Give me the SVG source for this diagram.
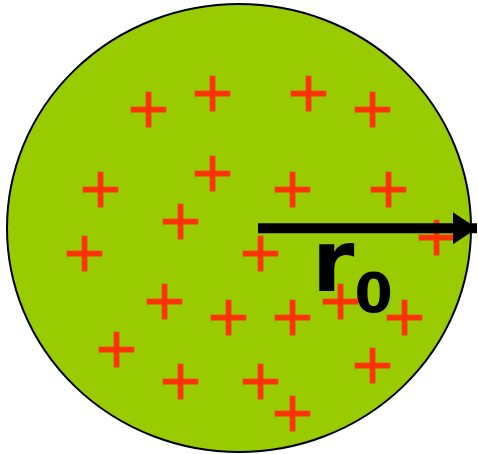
<svg xmlns="http://www.w3.org/2000/svg" width="478" height="454" viewBox="0 0 478 454">
<style>
.p{font-family:"DejaVu Sans",sans-serif;font-size:55px;fill:#FF3300;stroke:#FF3300;stroke-width:1.2;text-anchor:middle;dominant-baseline:central}
.lbl{font-family:"DejaVu Sans",sans-serif;font-weight:bold;fill:#000}
</style>
<defs>
<marker id="ah" markerWidth="24" markerHeight="32" refX="24" refY="16" orient="auto" markerUnits="userSpaceOnUse">
<path d="M0,0 L24,16 L0,32 Z" fill="#000"/>
</marker>
</defs>
<g id="sphere">
<ellipse cx="239" cy="228" rx="232" ry="224" fill="#99CC00" stroke="#000" stroke-width="2"/>
</g>
<g id="charges">
<text class="p" x="148.5" y="107.5">+</text>
<text class="p" x="212.5" y="91.5">+</text>
<text class="p" x="308.5" y="91.5">+</text>
<text class="p" x="372.5" y="107.5">+</text>
<text class="p" x="100.5" y="187.5">+</text>
<text class="p" x="212.5" y="171.5">+</text>
<text class="p" x="292.5" y="187.5">+</text>
<text class="p" x="388.5" y="187.5">+</text>
<text class="p" x="180.5" y="219.5">+</text>
<text class="p" x="84.5" y="251.5">+</text>
<text class="p" x="260.5" y="251.5">+</text>
<text class="p" x="436.5" y="235.5">+</text>
<text class="p" x="164.5" y="299.5">+</text>
<text class="p" x="228.5" y="315.5">+</text>
<text class="p" x="292.5" y="315.5">+</text>
<text class="p" x="340.5" y="299.5">+</text>
<text class="p" x="404.5" y="315.5">+</text>
<text class="p" x="116.5" y="347.5">+</text>
<text class="p" x="180.5" y="379.5">+</text>
<text class="p" x="260.5" y="379.5">+</text>
<text class="p" x="372.5" y="363.5">+</text>
<text class="p" x="292.5" y="411.5">+</text>
</g>
<g id="connectors">
<line x1="258" y1="228.3" x2="477" y2="228.3" stroke="#000" stroke-width="10" marker-end="url(#ah)"/>
</g>
<g id="label">
<text class="lbl" x="312" y="291" font-size="86">r<tspan font-size="55" dy="21">0</tspan></text>
</g>
</svg>
